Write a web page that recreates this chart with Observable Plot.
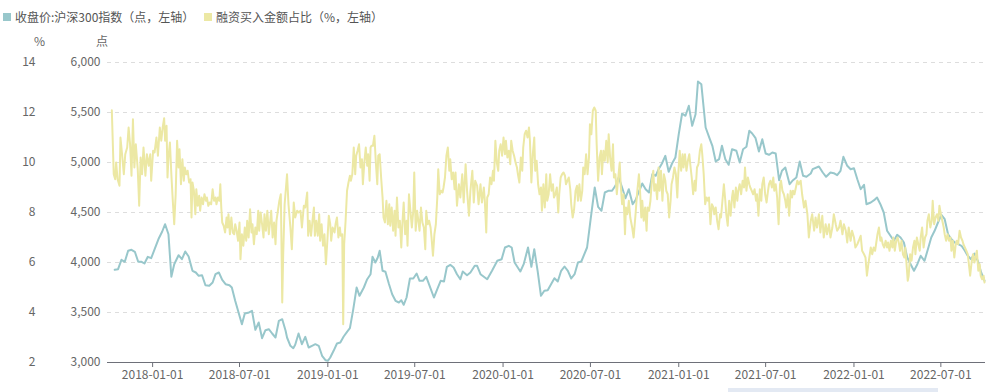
<!DOCTYPE html>
<html><head><meta charset="utf-8">
<script src="https://cdn.jsdelivr.net/npm/d3@7"></script>
<script src="https://cdn.jsdelivr.net/npm/@observablehq/plot@0.6"></script>
<style>
body{margin:0;background:#fff;font-family:"Noto Sans CJK SC","Noto Sans",sans-serif;}
#wrap{position:relative;width:999px;height:392px;overflow:hidden;}
#legend{height:30px;position:relative;font-size:12px;color:#555;}
.item{position:absolute;top:8px;line-height:18px;display:flex;align-items:center;white-space:nowrap;}
.sw{display:inline-block;width:8px;height:8px;margin-right:4px;}
.ax{position:absolute;top:32px;font-size:12px;line-height:18px;color:#666;}
#bar{position:absolute;left:728px;top:388px;width:210px;height:6px;background:#e3e9f3;}
</style></head><body>
<div id="wrap">
<div id="legend">
 <div class="item" style="left:3px"><span class="sw" style="background:#98c7cb"></span>收盘价:沪深300指数（点，左轴）</div>
 <div class="item" style="left:204px"><span class="sw" style="background:#ece8a4"></span>融资买入金额占比（%，左轴）</div>
</div>
<div class="ax" style="left:34px">%</div>
<div class="ax" style="left:96px">点</div>
<div id="chart"></div>
<div id="bar"></div>
</div>
<script>
// Dates are given as day offsets from this base date
const baseDate = "2018-01-01";
const xTicks = ["2018-01-01","2018-07-01","2019-01-01","2019-07-01","2020-01-01","2020-07-01","2021-01-01","2021-07-01","2022-01-01","2022-07-01"];
const pointTicks = [3000,3500,4000,4500,5000,5500,6000];
const pctTicks = [2,4,6,8,10,12,14];
const xDomain = ["2017-09-29","2022-10-02"];

// 收盘价:沪深300指数 [day offset, points]
const indexSeries = [[-79,3927],[-72,3933],[-65,4027],[-58,4007],[-51,4117],[-44,4127],[-37,4107],[-30,4007],[-23,4007],[-17,3990],[-10,4057],[-3,4043],[6,4157],[13,4243],[20,4310],[26,4383],[33,4283],[39,3857],[45,3983],[54,4073],[61,4033],[68,4110],[75,4060],[83,3917],[90,3900],[96,3867],[103,3873],[110,3773],[118,3767],[125,3800],[131,3883],[138,3900],[145,3827],[152,3783],[160,3773],[165,3750],[172,3617],[179,3500],[186,3383],[192,3490],[199,3497],[207,3517],[214,3327],[221,3400],[228,3243],[235,3323],[242,3333],[249,3290],[256,3250],[263,3417],[270,3433],[277,3317],
[280,3250],[287,3167],[293,3143],[297,3177],[304,3290],[311,3183],[318,3257],[325,3150],[332,3167],[339,3183],[346,3167],[353,3067],[360,3023],[365,3017],[370,3050],[377,3117],[384,3190],[391,3200],[398,3260],[405,3307],[411,3343],[418,3533],[425,3750],[431,3667],[440,3750],[447,3833],[454,3883],[458,4057],[464,4000],[469,4050],[473,4117],[479,3917],[485,3907],[492,3790],[499,3683],[506,3617],[513,3600],[518,3623],[523,3577],[529,3650],[536,3840],[543,3840],[550,3890],[556,3817],[563,3817],[570,3857],[577,3767],[586,3650],[593,3733],[600,3817],[607,3810],[613,3957],[620,3977],[627,3950],[634,3883],[641,3833],
[646,3910],[655,3873],[662,3900],[671,3967],[676,3967],[683,3883],[697,3833],[707,3917],[718,4017],[727,4033],[734,4150],[742,4167],[748,4150],[754,4000],[766,3910],[773,3983],[782,4150],[789,3957],[795,4133],[802,3917],[809,3667],[816,3717],[823,3723],[837,3843],[844,3810],[851,3917],[858,3960],[865,3917],[872,3840],[879,3883],[886,4000],[893,4010],[905,4150],[912,4417],[921,4750],[928,4557],[935,4517],[942,4700],[949,4717],[957,4717],[964,4767],[971,4850],[978,4750],[985,4643],[992,4733],[1000,4583],[1006,4623],
[1013,4710],[1020,4790],[1027,4733],[1034,4700],[1041,4883],[1048,4867],[1054,4933],[1061,4990],[1068,5067],[1075,4907],[1082,4990],[1089,5050],[1096,5283],[1103,5490],[1110,5467],[1117,5567],[1124,5367],[1131,5483],[1136,5810],[1143,5783],[1152,5350],[1160,5243],[1166,5167],[1173,5010],[1180,5033],[1186,5167],[1193,5033],[1200,4977],[1207,5133],[1216,5117],[1223,5000],[1230,5133],[1237,5157],[1243,5317],[1249,5290],[1256,5243],[1263,5110],[1270,5233],[1277,5090],[1284,5077],[1291,5100],[1298,5090],[1305,4823],[1311,4917],[1318,4950],[1327,4783],[1334,4823],[1341,4850],[1348,5010],[1355,4867],[1362,4857],[1371,4890],
[1375,4933],[1388,4960],[1396,4900],[1403,4857],[1412,4900],[1419,4893],[1426,4873],[1433,4917],[1439,5057],[1447,4967],[1454,4933],[1461,4943],[1468,4833],[1475,4733],[1482,4777],[1487,4583],[1496,4600],[1503,4623],[1509,4650],[1516,4583],[1523,4500],[1530,4317],[1537,4267],[1544,4217],[1551,4277],[1558,4250],[1565,4200],[1572,4050],[1579,3983],[1586,3917],[1593,3983],[1600,4067],[1608,4017],[1615,4133],[1622,4250],[1629,4317],[1636,4400],[1643,4477],[1650,4433],[1657,4283],[1664,4233],[1671,4200],[1678,4183],[1685,4167],[1692,4117],[1698,4067],[1705,4033],[1712,4090],[1719,4017],[1726,3900],[1733,3817]];

// 融资买入金额占比 [day offset, %]
const ratioSeries = [[-85,12.09],[-81,9.53],[-78,9.33],[-76,10.0],[-73,9.33],[-69,9.07],[-67,11.0],[-64,10.4],[-60,9.53],[-57,10.33],[-53,10.6],[-50,11.4],[-47,10.73],[-44,9.47],[-41,11.73],[-38,9.8],[-35,10.73],[-31,9.73],[-28,8.27],[-25,10.2],[-22,9.53],[-19,10.6],[-15,9.47],[-12,10.33],[-8,9.87],[-5,10.33],[-3,9.27],[1,10.47],[4,10.4],[8,11.0],[11,10.27],[15,11.4],[18,10.87],[21,11.4],[24,11.77],[26,10.87],[29,11.47],[31,9.4],[33,10.2],[36,10.8],[39,9.53],[42,8.47],[45,7.53],[48,8.73],[51,10.87],[54,9.8],[56,10.53],[59,9.13],[62,10.13],[65,9.27],[67,9.8],[70,9.53],[73,9.67],[76,9.2],[79,9.33],[81,7.8],[83,9.2],[86,8.87],[89,7.93],[91,8.93],[94,8.27],[97,8.67],[99,8.07],[102,8.6],[105,8.33],[108,8.73],[111,8.47],[113,8.6],[116,8.27],[119,8.4],[122,8.33],[125,8.93],[128,8.47],[131,8.6],[133,8.33],[136,8.6],[139,8.47],[141,9.13],[143,8.2],[145,7.6],[148,7.47],[151,7.2],[154,7.8],[156,7.4],[158,7.93],[161,7.13],[164,7.8],[167,7.2],[170,7.13],[172,7.53],[175,7.27],[178,6.87],[181,7.6],[183,6.13],[186,7.13],[189,6.67],[192,7.4],[195,6.87],[197,7.67],[200,7.0],[203,8.13],[206,7.2],[208,7.53],[211,6.73],[214,7.4],[217,7.13],[220,8.07],[222,7.27],[225,8.0],[228,7.53],[231,7.0],[233,7.93],[236,7.27],[239,8.07],[242,7.13],[245,7.67],[247,8.07],[250,7.0],[253,7.6],[256,6.73],[258,7.67],[261,8.07],[264,8.47],[267,8.73],[268,7.4],[270,4.4],[272,6.33],[275,8.33],
[280,9.53],[283,8.33],[287,7.4],[290,6.53],[294,8.4],[297,7.8],[301,8.07],[304,8.0],[308,8.07],[311,7.4],[315,8.27],[318,8.2],[322,8.8],[324,7.07],[327,7.67],[330,7.07],[333,7.67],[336,8.2],[338,7.07],[341,7.67],[344,7.07],[347,7.93],[349,6.87],[352,7.53],[355,6.67],[358,7.13],[361,5.93],[364,6.87],[367,7.87],[370,7.53],[372,6.87],[375,7.4],[379,7.2],[381,7.53],[384,7.8],[387,7.0],[390,7.4],[392,7.07],[395,7.13],[397,3.53],[399,6.73],[402,7.67],[405,8.87],[408,9.2],[411,9.47],[413,9.27],[416,9.53],[419,10.6],[422,9.53],[424,10.27],[427,10.47],[430,10.73],[433,9.8],[436,10.13],[438,9.13],[441,10.0],[444,10.6],[447,9.87],[449,10.33],[452,9.27],[454,10.6],[456,10.67],[459,10.67],[462,11.07],[465,10.0],[468,9.13],[470,10.27],[473,10.33],[476,9.4],[479,8.6],[481,7.8],[484,7.6],[487,8.47],[490,7.53],[493,8.33],[495,7.47],[498,8.2],[501,7.27],[504,8.07],[506,7.07],[509,8.6],[512,7.4],[515,7.67],[518,6.6],[520,7.47],[523,8.4],[526,7.13],[529,7.67],[531,6.67],[534,8.73],[537,8.07],[540,7.4],[543,8.07],[545,9.6],[548,7.27],[551,8.07],[554,7.6],[556,7.27],[559,8.2],[562,7.6],[565,7.4],[568,6.53],[570,8.07],[573,7.53],[576,7.67],[579,7.4],[581,7.0],[584,6.27],[587,7.13],[590,7.53],[593,8.6],[595,9.73],[598,8.73],[601,8.87],[604,8.8],[606,9.0],[609,9.4],[612,10.27],[615,10.6],[618,9.67],[620,10.13],[623,9.33],[626,9.6],[629,8.93],[631,9.6],
[634,8.27],[638,9.13],[641,8.6],[645,9.53],[648,8.4],[652,9.93],[655,8.87],[659,7.87],[662,8.87],[666,9.67],[669,8.4],[672,9.27],[676,9.07],[679,8.33],[683,9.13],[686,8.4],[690,9.0],[692,8.47],[695,7.2],[697,8.6],[700,8.73],[703,9.4],[706,9.13],[709,9.67],[711,9.27],[714,10.87],[717,10.0],[720,9.67],[722,10.47],[725,10.73],[728,10.27],[731,11.0],[734,10.33],[736,10.87],[739,10.2],[742,10.47],[745,9.93],[747,10.87],[750,10.47],[753,10.27],[756,10.0],[759,9.8],[761,9.53],[764,9.2],[767,10.2],[770,9.67],[772,10.6],[775,11.13],[778,11.27],[781,11.0],[784,11.4],[786,10.87],[789,9.2],[792,10.33],[795,11.0],[797,9.67],[800,10.07],[803,9.13],[806,8.73],[809,9.0],[811,8.07],[814,9.13],[817,8.2],[820,9.53],[822,8.47],[825,8.73],[828,9.53],[831,8.87],[834,9.13],[836,8.6],[839,8.73],[842,9.0],[845,8.0],[847,8.73],[850,9.4],[853,9.53],[856,9.6],[859,9.47],[861,9.13],[864,9.27],[867,9.4],[870,8.93],[872,8.33],[875,7.8],[878,8.13],[881,8.87],[884,9.07],[886,8.47],[889,9.13],[892,8.47],[895,8.87],[897,9.8],[900,9.53],[903,10.33],[906,9.53],[909,10.2],[911,11.53],[914,11.13],[917,12.07],[920,12.2],[923,12.07],[925,10.73],[928,9.27],[931,10.2],[934,10.47],[936,9.53],[939,10.47],[942,10.07],[945,10.87],[948,10.0],[950,11.13],[953,10.2],[956,9.67],[959,10.73],[961,9.4],[964,9.53],[967,8.73],[970,9.4],[973,10.0],[975,9.13],[978,8.33],[981,8.73],[984,7.13],[986,8.2],[989,7.93],[992,8.47],[995,7.8],
[999,7.4],[1002,7.0],[1006,7.93],[1009,8.73],[1013,9.53],[1015,9.0],[1018,7.8],[1020,8.47],[1023,7.67],[1026,8.2],[1029,7.27],[1031,8.2],[1034,8.07],[1037,8.47],[1040,9.27],[1043,9.67],[1045,8.87],[1048,9.13],[1051,8.53],[1054,9.8],[1056,8.87],[1059,9.67],[1062,8.47],[1065,9.53],[1068,9.27],[1070,8.87],[1073,8.73],[1076,7.8],[1079,8.47],[1081,9.13],[1084,9.4],[1087,9.8],[1090,9.53],[1093,8.6],[1095,9.53],[1098,10.47],[1101,9.67],[1104,10.33],[1106,9.8],[1109,10.33],[1112,9.67],[1115,10.07],[1118,10.33],[1120,9.93],[1123,9.4],[1126,8.73],[1129,9.27],[1131,8.87],[1134,9.8],[1137,9.93],[1140,10.47],[1143,10.73],[1145,10.33],[1148,9.53],[1151,8.33],[1154,8.6],[1157,8.47],[1159,8.6],[1162,7.53],[1165,8.33],[1168,8.2],[1170,7.93],[1173,8.2],[1176,7.67],[1179,7.33],[1182,7.93],[1184,7.8],[1187,8.47],[1190,9.13],[1193,8.47],[1195,7.93],[1198,7.47],[1201,8.47],[1204,7.87],[1207,8.6],[1209,8.87],[1212,8.2],[1215,9.0],[1218,8.47],[1220,8.87],[1223,9.13],[1226,8.73],[1229,9.27],[1232,9.0],[1234,9.8],[1237,8.87],[1240,9.4],[1243,9.13],[1245,9.0],[1248,8.87],[1251,8.73],[1254,8.93],[1257,8.47],[1259,8.73],[1262,7.87],[1265,8.93],[1268,8.47],[1270,9.13],[1273,9.4],[1276,8.73],[1279,8.4],[1282,8.87],[1284,9.13],[1287,9.27],[1290,9.0],[1293,9.4],[1295,8.87],[1298,9.13],[1301,8.6],[1304,7.53],[1307,9.13],[1309,9.27],[1312,8.87],[1315,8.73],[1318,8.47],[1320,8.2],[1323,8.73],[1326,7.87],[1329,8.87],[1332,8.6],[1334,8.87],[1337,8.73],[1340,9.0],[1343,9.27],[1346,9.13],[1350,9.27],[1353,8.73],[1357,8.2],[1360,8.47],
[1364,7.93],[1367,7.0],[1371,7.67],[1374,7.93],[1378,7.27],[1381,7.8],[1384,7.4],[1388,7.93],[1391,7.2],[1395,7.87],[1398,7.0],[1402,7.53],[1405,7.13],[1409,7.53],[1412,7.0],[1416,7.4],[1419,7.93],[1423,7.53],[1426,7.27],[1430,7.4],[1433,7.67],[1437,7.13],[1440,7.53],[1444,7.27],[1447,6.8],[1450,7.4],[1454,6.87],[1457,7.27],[1461,7.0],[1464,6.6],[1468,6.73],[1471,6.87],[1475,7.07],[1478,6.47],[1482,6.33],[1485,6.2],[1488,5.47],[1491,5.93],[1493,6.2],[1496,6.6],[1499,6.33],[1502,6.6],[1505,6.47],[1507,6.73],[1510,7.13],[1513,7.4],[1516,6.87],[1518,7.0],[1521,6.73],[1524,6.6],[1527,6.87],[1530,6.6],[1532,6.8],[1535,6.47],[1538,6.87],[1541,6.6],[1543,7.0],[1546,6.47],[1549,6.87],[1552,7.0],[1555,6.73],[1557,6.47],[1560,6.87],[1563,6.33],[1566,6.2],[1568,6.6],[1571,5.8],[1573,5.27],[1575,5.47],[1578,6.33],[1581,6.07],[1584,6.6],[1587,6.87],[1589,6.33],[1592,7.0],[1595,6.73],[1598,6.47],[1600,7.0],[1603,7.4],[1606,6.6],[1609,7.0],[1612,7.13],[1614,7.67],[1617,7.93],[1620,7.4],[1623,7.67],[1625,8.47],[1628,7.53],[1631,7.8],[1634,7.93],[1637,7.67],[1639,8.27],[1642,7.93],[1645,7.67],[1648,7.4],[1650,7.13],[1653,6.87],[1656,7.13],[1659,6.87],[1662,7.0],[1664,6.47],[1667,6.87],[1670,6.2],[1673,6.73],[1675,6.87],[1678,6.73],[1681,7.27],[1684,7.0],[1687,6.87],[1689,6.73],[1692,6.6],[1695,6.47],[1698,6.33],[1700,6.0],[1703,5.47],[1706,6.0],[1709,6.33],[1712,6.0],[1714,6.2],[1717,6.47],[1720,5.67],[1723,5.93],[1725,5.47],[1728,5.33],[1731,5.47],[1733,5.2]];

const base = new Date(baseDate + "T00:00:00Z");
const toDate = d => d3.utcDay.offset(base, d);
// % axis is aligned to the points axis: 2% ↔ 3,000, 14% ↔ 6,000
const pctToPoints = p => 3000 + (p - 2) * 250;
const pointsToPct = v => 2 + (v - 3000) / 250;

const idx = indexSeries.map(([d, v]) => ({date: toDate(d), value: v}));
const rat = ratioSeries.map(([d, v]) => ({date: toDate(d), value: pctToPoints(v)}));

const font = '"Noto Sans CJK SC","Noto Sans",sans-serif';
const chart = Plot.plot({
  width: 999,
  height: 362,
  marginTop: 32,
  marginBottom: 30,
  marginLeft: 107,
  marginRight: 14,
  style: {fontFamily: font, fontSize: "12px", color: "#666", background: "transparent", overflow: "visible"},
  x: {type: "utc", domain: xDomain.map(s => new Date(s + "T00:00:00Z"))},
  y: {domain: [3000, 6000]},
  marks: [
    Plot.gridY(pointTicks.filter(t => t > 3000), {stroke: "#dddddd", strokeOpacity: 1, strokeDasharray: "4,4"}),
    Plot.axisY({ticks: pointTicks, tickSize: 0, tickPadding: 7, tickFormat: d3.format(","), label: null, fill: "#666"}),
    Plot.axisY({ticks: pctTicks.map(pctToPoints), tickSize: 0, tickPadding: 7, dx: -65, tickFormat: t => String(pointsToPct(t)), label: null, fill: "#666"}),
    Plot.axisX({ticks: xTicks.map(s => new Date(s + "T00:00:00Z")), tickSize: 5, tickPadding: 3, tickFormat: d3.utcFormat("%Y-%m-%d"), label: null, stroke: "#6e7079", fill: "#666"}),
    Plot.ruleY([3000], {stroke: "#6e7079"}),
    Plot.line(idx, {x: "date", y: "value", stroke: "#98c7cb", strokeWidth: 2}),
    Plot.line(rat, {x: "date", y: "value", stroke: "#ece8a4", strokeWidth: 2})
  ]
});
document.getElementById("chart").appendChild(chart);
</script>
</body></html>
